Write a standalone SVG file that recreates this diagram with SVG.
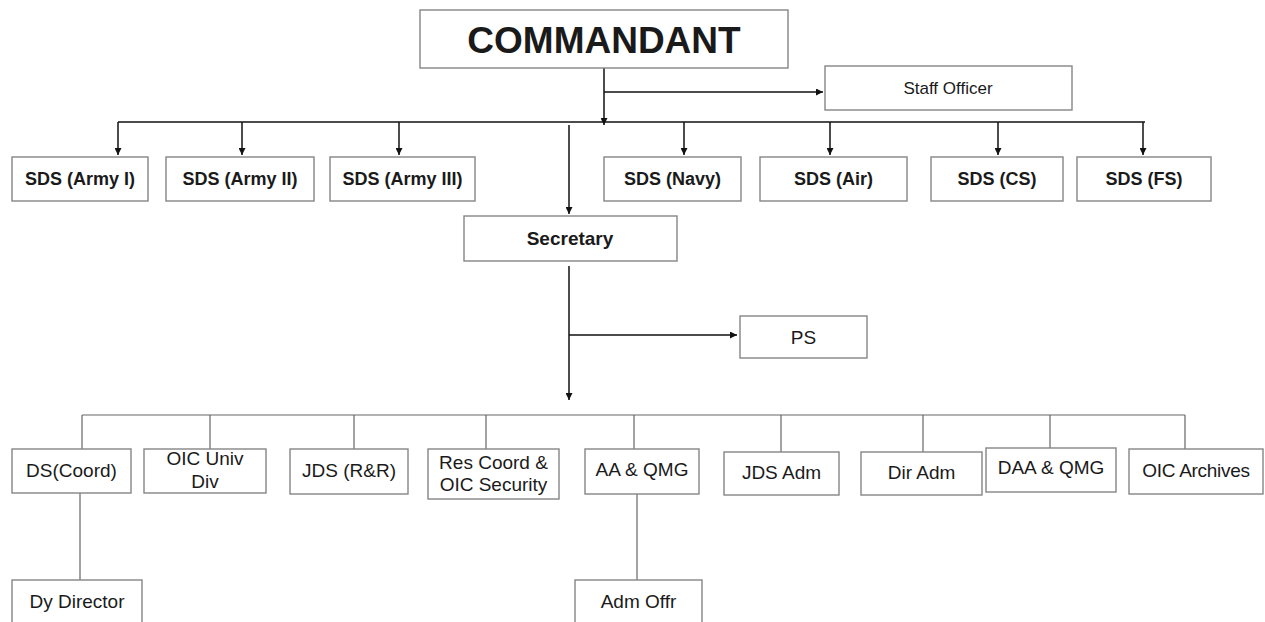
<svg xmlns="http://www.w3.org/2000/svg" width="1265" height="622" viewBox="0 0 1265 622">
<defs>
<style>
.box{fill:#fff;stroke:#858585;stroke-width:1.4}
.t{font-family:"Liberation Sans",Arial,sans-serif;fill:#1a1a1a;text-anchor:middle}
.b{font-weight:bold}
.top{stroke:#111;stroke-width:1.5;fill:none}
.bot{stroke:#666;stroke-width:1.2;fill:none}
</style>
<marker id="ah" viewBox="0 0 7 7" refX="7" refY="3.5" markerWidth="7" markerHeight="7" markerUnits="userSpaceOnUse" orient="auto">
<path d="M0,0 L7,3.5 L0,7 z" fill="#111"/>
</marker>
</defs>
<rect width="1265" height="622" fill="#fff"/>
<g id="connectors">
<line class="top" x1="604" y1="68" x2="604" y2="125" marker-end="url(#ah)"/>
<line class="top" x1="604" y1="92" x2="823" y2="92" marker-end="url(#ah)"/>
<line class="top" x1="118" y1="122" x2="1145" y2="122"/>
<line class="top" x1="118" y1="122" x2="118" y2="155" marker-end="url(#ah)"/>
<line class="top" x1="242" y1="122" x2="242" y2="155" marker-end="url(#ah)"/>
<line class="top" x1="399" y1="122" x2="399" y2="155" marker-end="url(#ah)"/>
<line class="top" x1="684" y1="122" x2="684" y2="155" marker-end="url(#ah)"/>
<line class="top" x1="830" y1="122" x2="830" y2="155" marker-end="url(#ah)"/>
<line class="top" x1="998" y1="122" x2="998" y2="155" marker-end="url(#ah)"/>
<line class="top" x1="1143" y1="122" x2="1143" y2="155" marker-end="url(#ah)"/>
<line class="top" x1="569" y1="125" x2="569" y2="214" marker-end="url(#ah)"/>
<line class="top" x1="569" y1="266" x2="569" y2="400" marker-end="url(#ah)"/>
<line class="top" x1="569" y1="335" x2="737" y2="335" marker-end="url(#ah)"/>
<line class="bot" x1="82" y1="415" x2="1185" y2="415"/>
<line class="bot" x1="82" y1="415" x2="82" y2="449"/>
<line class="bot" x1="210" y1="415" x2="210" y2="449"/>
<line class="bot" x1="354" y1="415" x2="354" y2="449"/>
<line class="bot" x1="486" y1="415" x2="486" y2="449"/>
<line class="bot" x1="634" y1="415" x2="634" y2="449"/>
<line class="bot" x1="781" y1="415" x2="781" y2="452"/>
<line class="bot" x1="923" y1="415" x2="923" y2="452"/>
<line class="bot" x1="1050" y1="415" x2="1050" y2="448"/>
<line class="bot" x1="1185" y1="415" x2="1185" y2="449"/>
<line class="bot" x1="80" y1="493" x2="80" y2="580"/>
<line class="bot" x1="637" y1="494" x2="637" y2="580"/>
</g>
<g id="commandant"><rect class="box" x="420" y="10" width="368" height="58"/><text class="t b" x="604" y="53" font-size="37">COMMANDANT</text></g>
<g id="staff-officer"><rect class="box" x="825" y="66" width="247" height="44"/><text class="t" x="948" y="94" font-size="17">Staff Officer</text></g>
<g id="sds-army1"><rect class="box" x="12" y="157" width="136" height="44"/><text class="t b" x="80" y="185" font-size="18">SDS (Army I)</text></g>
<g id="sds-army2"><rect class="box" x="166" y="157" width="148" height="44"/><text class="t b" x="240" y="185" font-size="18">SDS (Army II)</text></g>
<g id="sds-army3"><rect class="box" x="330" y="157" width="145" height="44"/><text class="t b" x="402.5" y="185" font-size="18">SDS (Army III)</text></g>
<g id="sds-navy"><rect class="box" x="604" y="157" width="137" height="44"/><text class="t b" x="672.5" y="185" font-size="18">SDS (Navy)</text></g>
<g id="sds-air"><rect class="box" x="760" y="157" width="147" height="44"/><text class="t b" x="833.5" y="185" font-size="18">SDS (Air)</text></g>
<g id="sds-cs"><rect class="box" x="931" y="157" width="132" height="44"/><text class="t b" x="997" y="185" font-size="18">SDS (CS)</text></g>
<g id="sds-fs"><rect class="box" x="1077" y="157" width="134" height="44"/><text class="t b" x="1144" y="185" font-size="18">SDS (FS)</text></g>
<g id="secretary"><rect class="box" x="464" y="216" width="213" height="45"/><text class="t b" x="570" y="245" font-size="19">Secretary</text></g>
<g id="ps"><rect class="box" x="740" y="316" width="127" height="42"/><text class="t" x="803.5" y="344" font-size="19">PS</text></g>
<g id="ds-coord"><rect class="box" x="12" y="449" width="119" height="44"/><text class="t" x="71.5" y="477" font-size="19">DS(Coord)</text></g>
<g id="oic-univ"><rect class="box" x="144" y="449" width="122" height="44"/><text class="t" x="205" y="465" font-size="19">OIC Univ</text><text class="t" x="205" y="488" font-size="19">Div</text></g>
<g id="jds-rr"><rect class="box" x="290" y="449" width="118" height="45"/><text class="t" x="349" y="477" font-size="19">JDS (R&amp;R)</text></g>
<g id="res-coord"><rect class="box" x="428" y="449" width="131" height="50"/><text class="t" x="493.5" y="469" font-size="19">Res Coord &amp;</text><text class="t" x="493.5" y="491" font-size="19">OIC Security</text></g>
<g id="aa-qmg"><rect class="box" x="585" y="449" width="114" height="45"/><text class="t" x="642" y="476" font-size="19">AA &amp; QMG</text></g>
<g id="jds-adm"><rect class="box" x="724" y="452" width="115" height="43"/><text class="t" x="781.5" y="479" font-size="19">JDS Adm</text></g>
<g id="dir-adm"><rect class="box" x="861" y="452" width="121" height="43"/><text class="t" x="921.5" y="479" font-size="19">Dir Adm</text></g>
<g id="daa-qmg"><rect class="box" x="986" y="448" width="130" height="44"/><text class="t" x="1051" y="474" font-size="19">DAA &amp; QMG</text></g>
<g id="oic-archives"><rect class="box" x="1129" y="449" width="134" height="45"/><text class="t" x="1196" y="477" font-size="19" letter-spacing="-0.3">OIC Archives</text></g>
<g id="dy-director"><rect class="box" x="12" y="580" width="130" height="60"/><text class="t" x="77" y="608" font-size="19">Dy Director</text></g>
<g id="adm-offr"><rect class="box" x="575" y="580" width="127" height="60"/><text class="t" x="638.5" y="608" font-size="19">Adm Offr</text></g>
</svg>
